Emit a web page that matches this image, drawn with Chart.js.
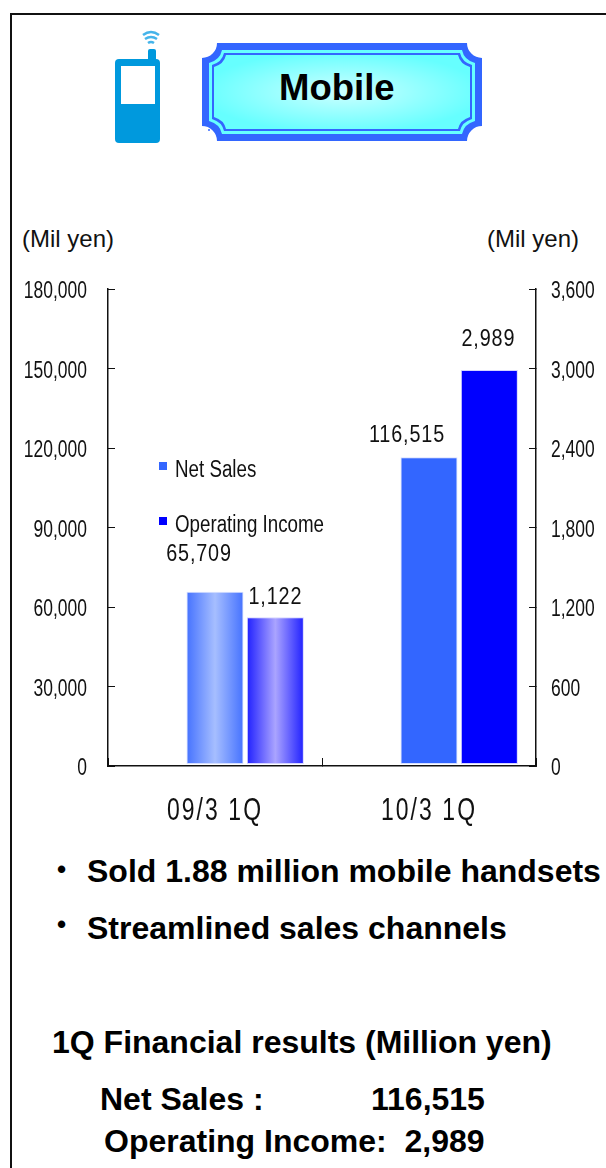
<!DOCTYPE html>
<html>
<head>
<meta charset="utf-8">
<title>Mobile</title>
<script src="https://cdn.jsdelivr.net/npm/chart.js@4/dist/chart.umd.min.js"></script>
<style>
    html, body { margin: 0; padding: 0; background: #fff; }
    #page { position: relative; width: 606px; height: 1168px; overflow: hidden; font-family: 'Liberation Sans', Arial, sans-serif; color: #000; }
    #page canvas { position: absolute; left: 0; top: 0; }
    .frame-top { position: absolute; left: 11px; top: 13px; width: 595px; height: 2px; background: #111; }
    .frame-left { position: absolute; left: 10px; top: 13px; width: 2px; height: 1155px; background: #111; }
    .txt { position: absolute; white-space: pre; line-height: 1; }
    .unit { font-size: 24px; color: #111; }
    .bold { font-weight: bold; font-size: 32px; }
    svg { position: absolute; }
</style>
</head>
<body>
<div id="page">
    <div class="frame-top"></div>
    <div class="frame-left"></div>

    <!-- handset icon -->
    <svg style="left:110px;top:26px" width="56" height="122" viewBox="110 26 56 122">
        <g fill="none" stroke="#45b4ea" stroke-width="2.5">
            <path d="M143 35 Q151 29 159 35"/>
            <path d="M145 39 Q151 35 157 39"/>
            <path d="M148 43 Q151 41 154 43"/>
        </g>
        <rect x="148" y="49" width="8" height="14" rx="2" fill="#0099dd"/>
        <rect x="115" y="59" width="45" height="84" rx="4" fill="#0099dd"/>
        <rect x="121" y="66" width="34" height="38" fill="#fff"/>
    </svg>

    <!-- title plate -->
    <svg style="left:200px;top:40px" width="285" height="104" viewBox="200 40 285 104">
        <defs>
            <radialGradient id="plateFill" cx="50%" cy="50%" r="55%">
                <stop offset="0" stop-color="#ccffff"/>
                <stop offset="1" stop-color="#66ffff"/>
            </radialGradient>
        </defs>
        <path d="M217 43 H467 A15 15 0 0 0 482 58 V126 A15 15 0 0 0 467 141 H217 A15 15 0 0 0 202 126 V58 A15 15 0 0 0 217 43 Z" fill="#3366ff"/>
        <path d="M222 50 H462 Q464 60 475 63 V121 Q464 124 462 134 H222 Q220 124 209 121 V63 Q220 60 222 50 Z" fill="#66ffff"/>
        <path d="M224 53 H460 Q462 62 472 65 V119 Q462 122 460 131 H224 Q222 122 212 119 V65 Q222 62 224 53 Z" fill="#3366ff"/>
        <path d="M226 55 H458 Q460 64 470 67 V117 Q460 120 458 129 H226 Q224 120 214 117 V67 Q224 64 226 55 Z" fill="url(#plateFill)"/>
        <circle cx="209" cy="130" r="1" fill="#3366ff"/>
    </svg>
    <div class="txt bold" style="left:279px;top:70px;font-size:36.5px">Mobile</div>

    <div class="txt unit" style="left:22px;top:227px">(Mil yen)</div>
    <div class="txt unit" style="left:487px;top:227px">(Mil yen)</div>

    <canvas id="mobileChart" width="606" height="840"></canvas>

    <div class="txt bold" style="left:57px;top:856px;font-size:26px">•</div>
    <div class="txt bold" style="left:87px;top:855px">Sold 1.88 million mobile handsets</div>
    <div class="txt bold" style="left:57px;top:911px;font-size:26px">•</div>
    <div class="txt bold" style="left:87px;top:912px">Streamlined sales channels</div>
    <div class="txt bold" style="left:52px;top:1026px">1Q Financial results (Million yen)</div>
    <div class="txt bold" style="left:100px;top:1083px">Net Sales :</div>
    <div class="txt bold" style="left:371px;top:1083px">116,515</div>
    <div class="txt bold" style="left:104px;top:1125px">Operating Income:  2,989</div>
</div>

<script>
    const FONT = "'Liberation Sans', Arial, sans-serif";

    const periods = ['09/3 1Q', '10/3 1Q'];
    const seriesNames = ['Net Sales', 'Operating Income'];
    const netSales = [65709, 116515];
    const operatingIncome = [1122, 2989];

    // Værdilabels sidder frit i forhold til søjlerne
    const salesLabelShift = [[-16, -37], [-22, -22]];
    const incomeLabelShift = [[0, -20], [-1, -30]];

    const CATEGORY_PCT = 0.846;
    const BAR_PCT = 0.945;

    // Første periode har vandret gradient, anden periode er ensfarvet
    function barFill(edge, mid, solid) {
        return function(context) {
            if (context.dataIndex !== 0 || !context.chart.chartArea) {
                return solid;
            }
            const xScale = context.chart.scales.x;
            const step = xScale.getPixelForValue(1) - xScale.getPixelForValue(0);
            const slot = step * CATEGORY_PCT / 3;
            const centre = xScale.getPixelForValue(0) + (context.datasetIndex - 1) * slot;
            const half = slot * BAR_PCT / 2;
            if (!Number.isFinite(centre) || !Number.isFinite(half)) {
                return solid;
            }
            const gradient = context.chart.ctx.createLinearGradient(centre - half, 0, centre + half, 0);
            gradient.addColorStop(0, edge);
            gradient.addColorStop(0.5, mid);
            gradient.addColorStop(1, edge);
            return gradient;
        };
    }

    // Smal tekst: ingen condensed-font til rådighed, så teksten presses vandret
    function drawCondensed(ctx, text, x, y, align, squeeze, spacing) {
        ctx.save();
        ctx.translate(x, y);
        ctx.scale(squeeze, 1);
        ctx.textAlign = align;
        ctx.textBaseline = 'middle';
        ctx.letterSpacing = (spacing || 0) + 'px';
        ctx.fillStyle = '#111';
        ctx.fillText(text, 0, 0);
        ctx.restore();
    }

    const axisLabels = {
        id: 'axisLabels',
        afterDraw(chart) {
            const ctx = chart.ctx;
            const { x, y, y1 } = chart.scales;
            ctx.save();
            ctx.font = '23px ' + FONT;
            y.ticks.forEach((tick, i) => {
                drawCondensed(ctx, tick.value.toLocaleString('en-US'), 87, y.getPixelForTick(i) + 3, 'right', 0.76);
            });
            y1.ticks.forEach((tick, i) => {
                drawCondensed(ctx, tick.value.toLocaleString('en-US'), 551, y1.getPixelForTick(i) + 3, 'left', 0.76);
            });
            ctx.font = '31px ' + FONT;
            periods.forEach((label, i) => {
                drawCondensed(ctx, label, x.getPixelForValue(i), 811, 'center', 0.74, 2.8);
            });
            ctx.restore();
        }
    };

    const valueLabels = {
        id: 'valueLabels',
        afterDatasetsDraw(chart) {
            const ctx = chart.ctx;
            ctx.save();
            ctx.font = '23px ' + FONT;
            [[1, netSales, salesLabelShift], [2, operatingIncome, incomeLabelShift]].forEach(([index, values, shift]) => {
                chart.getDatasetMeta(index).data.forEach((bar, i) => {
                    drawCondensed(ctx, values[i].toLocaleString('en-US'), bar.x + shift[i][0], bar.y + shift[i][1], 'center', 0.86, 1);
                });
            });
            ctx.restore();
        }
    };

    const sideLegend = {
        id: 'sideLegend',
        afterDraw(chart) {
            const ctx = chart.ctx;
            const colors = ['#3366ff', '#0000ff'];
            const rows = [466, 521];
            ctx.save();
            ctx.font = '23px ' + FONT;
            seriesNames.forEach((name, i) => {
                ctx.fillStyle = colors[i];
                ctx.fillRect(159, rows[i] - 4, 8, 8);
                drawCondensed(ctx, name, 175, rows[i] + 5, 'left', 0.815);
            });
            ctx.restore();
        }
    };

    new Chart(document.getElementById('mobileChart').getContext('2d'), {
        type: 'bar',
        data: {
            labels: periods,
            datasets: [
                // tom plads, så søjleparret står til højre for aksens etiket
                { label: '', data: [null, null], yAxisID: 'y' },
                {
                    label: seriesNames[0],
                    data: netSales,
                    yAxisID: 'y',
                    base: 800, // søjlerne står lidt over aksen
                    backgroundColor: barFill('#4572ff', '#a6beff', '#3366ff'),
                    borderColor: '#d4deff',
                    borderWidth: 1,
                    borderSkipped: false
                },
                {
                    label: seriesNames[1],
                    data: operatingIncome,
                    yAxisID: 'y1',
                    base: 16,
                    backgroundColor: barFill('#2020ff', '#aaa4ff', '#0000ff'),
                    borderColor: '#d4d4ff',
                    borderWidth: 1,
                    borderSkipped: false
                }
            ]
        },
        options: {
            responsive: false,
            animation: false,
            categoryPercentage: CATEGORY_PCT,
            barPercentage: BAR_PCT,
            layout: { padding: { top: 289, left: 0, right: 0, bottom: 0 } },
            plugins: { legend: { display: false }, title: { display: false }, tooltip: { enabled: false } },
            scales: {
                x: {
                    afterFit: scale => { scale.height = 74; },
                    border: { color: '#111', width: 1.5 },
                    grid: { drawOnChartArea: false, tickLength: -8, tickColor: '#111', tickWidth: 1 },
                    ticks: { display: false }
                },
                y: {
                    position: 'left',
                    min: 0,
                    max: 180000,
                    afterFit: scale => { scale.width = 108; },
                    border: { color: '#111', width: 1.5 },
                    grid: { drawOnChartArea: false, tickLength: -7, tickColor: '#111', tickWidth: 1 },
                    ticks: { display: false, stepSize: 30000 }
                },
                y1: {
                    position: 'right',
                    min: 0,
                    max: 3600,
                    afterFit: scale => { scale.width = 70; },
                    border: { color: '#111', width: 1.5 },
                    grid: { drawOnChartArea: false, tickLength: -7, tickColor: '#111', tickWidth: 1 },
                    ticks: { display: false, stepSize: 600 }
                }
            }
        },
        plugins: [valueLabels, sideLegend, axisLabels]
    });
</script>
</body>
</html>
